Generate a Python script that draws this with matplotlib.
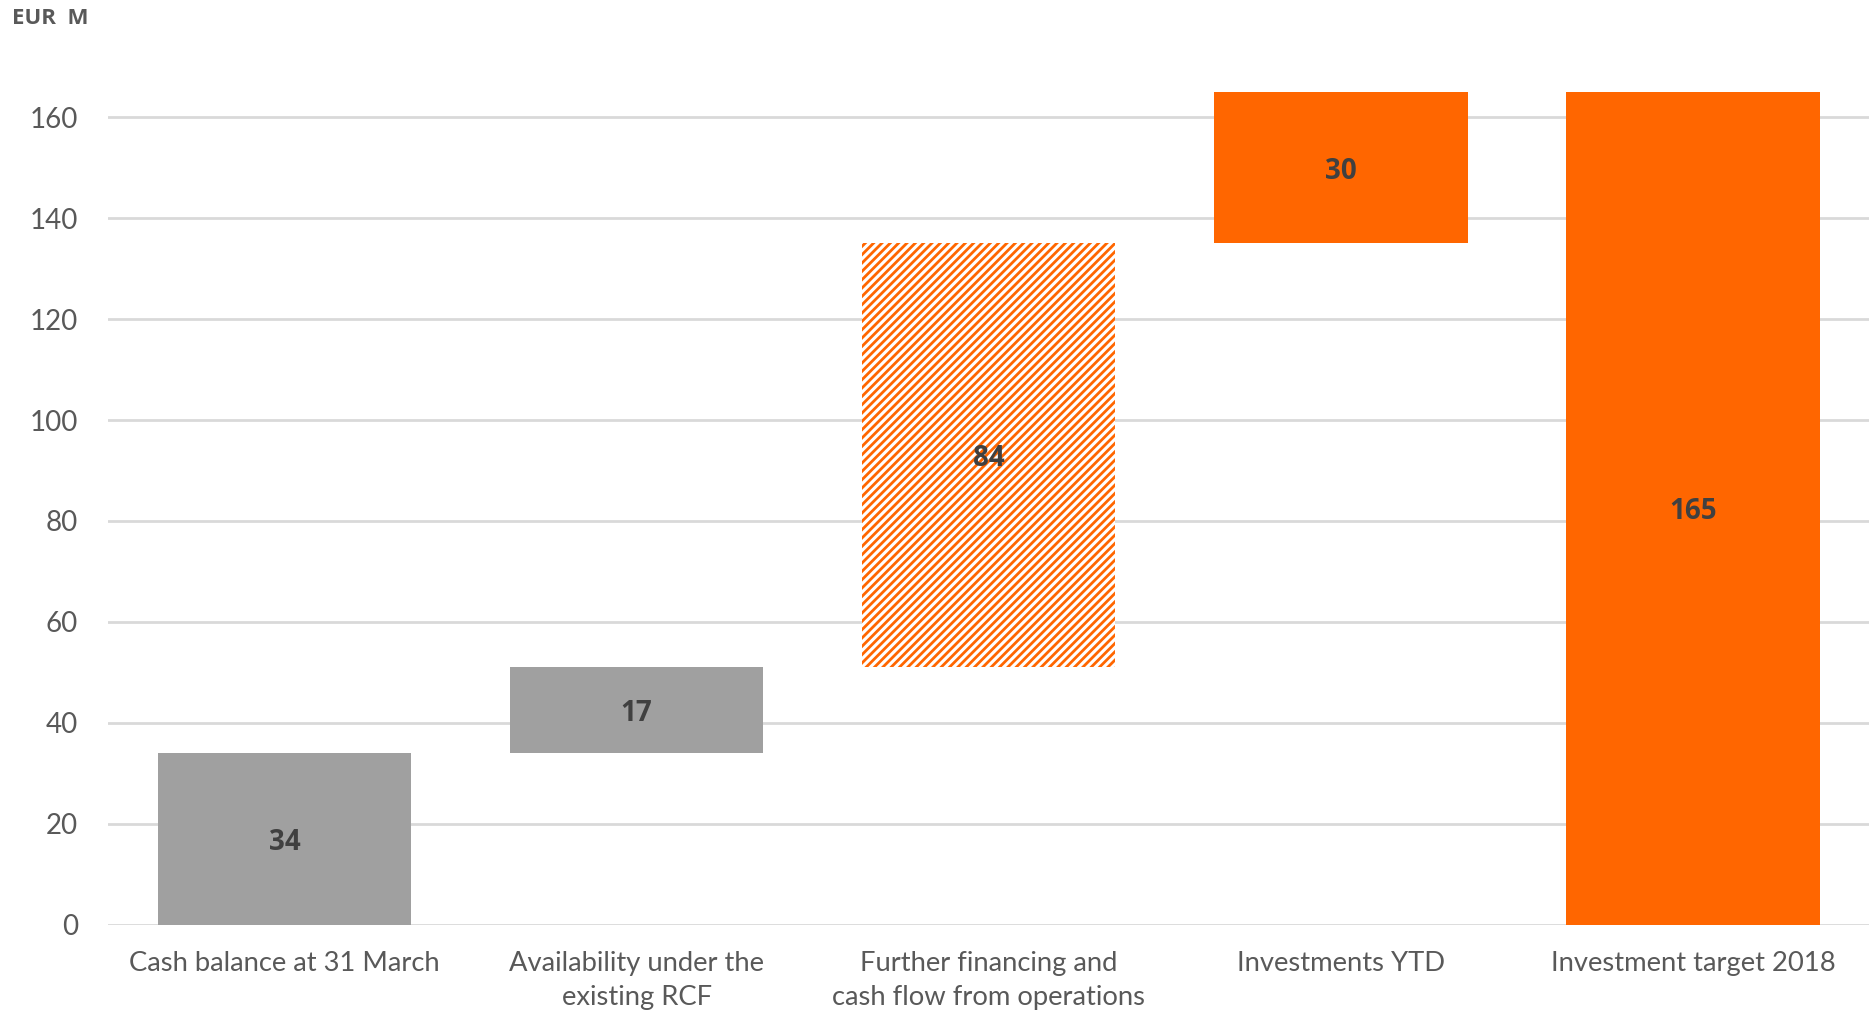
import matplotlib
matplotlib.use("Agg")
import matplotlib.pyplot as plt

plt.rcParams['font.family'] = ['Lato', 'DejaVu Sans']
plt.rcParams['hatch.linewidth'] = 2.0

categories = ["Cash balance at 31 March", "Availability under the\nexisting RCF",
              "Further financing and\ncash flow from operations", "Investments YTD",
              "Investment target 2018"]
values = [34, 17, 84, 30, 165]
bases = [0, 34, 51, 135, 0]
colors = ["#A0A0A0", "#A0A0A0", "white", "#FF6600", "#FF6600"]
hatched = [False, False, True, False, False]
yticks = [0, 20, 40, 60, 80, 100, 120, 140, 160]

bold_family = ['Open Sans', 'DejaVu Sans']

fig = plt.figure(figsize=(18.69, 10.16), dpi=100)
ax = fig.add_axes([0.058, 0.0896, 0.942, 0.83])

x = list(range(len(categories)))
for i in x:
    if hatched[i]:
        ax.bar(i, values[i], bottom=bases[i], width=0.72, color="white",
               edgecolor="#FF6600", linewidth=0, hatch="////", zorder=3)
    else:
        ax.bar(i, values[i], bottom=bases[i], width=0.72, color=colors[i],
               linewidth=0, zorder=3)
    ax.text(i, bases[i] + values[i] / 2, str(values[i]), ha="center",
            va="center_baseline", fontsize=20, fontweight="bold", family=bold_family,
            color="#404040", zorder=4)

ax.set_xlim(-0.5, 4.5)
ax.set_ylim(0, 167)
ax.set_yticks(yticks)
ax.set_xticks(x)
ax.set_xticklabels(categories, fontsize=19.7, color="#595959", linespacing=1.45)
ax.tick_params(axis="y", labelsize=20, labelcolor="#595959", length=0, pad=22)
ax.tick_params(axis="x", length=0, pad=19)
ax.grid(axis="y", color="#D9D9D9", linewidth=2, zorder=0)
ax.set_axisbelow(True)
for s in ax.spines.values():
    s.set_visible(False)

fig.text(12 / 1869, 1 - 18 / 1016, "EUR  M", fontsize=16, fontweight="bold",
         family=bold_family, color="#595959", ha="left", va="center")

fig.savefig("out.png", dpi=100)
